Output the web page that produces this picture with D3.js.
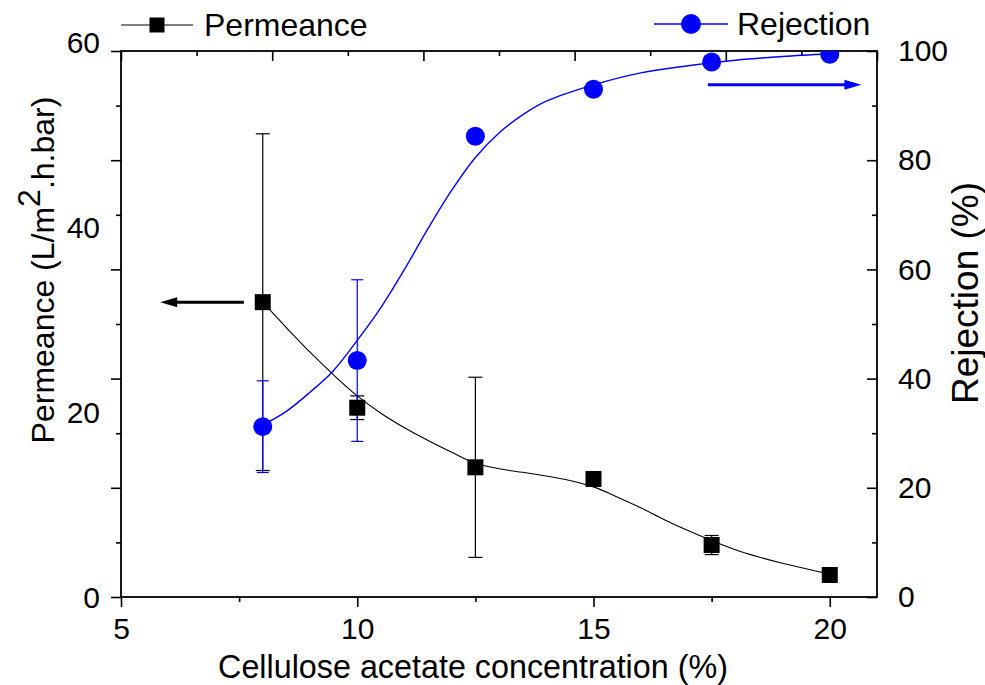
<!DOCTYPE html>
<html><head><meta charset="utf-8">
<script src="https://cdn.jsdelivr.net/npm/d3@7"></script>
<style>
html,body{margin:0;padding:0;background:#fff;}
svg{display:block;font-family:"Liberation Sans",Arial,Helvetica,sans-serif;}
</style></head><body>
<svg id="chart" width="985" height="685"></svg>
<script>
// Measured points: cellulose acetate concentration (%)
const concentration = [8, 10, 12.5, 15, 17.5, 20];
const permeance     = [32.4, 20.8, 14.25, 12.97, 5.71, 2.42];   // L/m2.h.bar
const permeanceErr  = [18.5, 1.3, 9.9, 0.4, 1.05, 0.3];
const rejection     = [31.2, 43.3, 84.4, 93.0, 98.0, 99.4];     // %
const rejectionErr  = [8.4, 14.8, 0, 0, 0, 0];

// Smoothed trend lines through each series
const permFitX = [8, 8.5, 9, 9.5, 10, 10.5, 11, 11.5, 12, 12.5, 13, 13.5, 14, 14.5, 15, 15.5, 16, 16.5, 17, 17.5, 18, 18.5, 19, 19.5, 20];
const permFitY = [32.4, 29.6, 26.9, 24.4, 22.1, 20.2, 18.6, 17.2, 15.9, 14.7, 14.1, 13.7, 13.3, 12.8, 12.1, 11.0, 9.8, 8.5, 7.3, 6.2, 5.2, 4.4, 3.7, 3.1, 2.5];
const rejFitX = [8, 8.5, 9, 9.5, 10, 10.5, 11, 11.5, 12, 12.5, 13, 13.5, 14, 15, 16, 17, 18, 19, 20];
const rejFitY = [31.5, 34, 37.5, 41.5, 47, 53, 60, 67.5, 74.5, 80.5, 85, 88.3, 90.8, 93.8, 96, 97.3, 98.3, 99, 99.5];

// Axis ticks
const xMajorTicks = [5, 10, 15, 20];
const xMinorTicks = [7.5, 12.5, 17.5];
const leftTickLabels = [0, 20, 40, 60];
const rightMajorTicks = [0, 20, 40, 60, 80, 100];
const rightMinorTicks = [10, 30, 50, 70, 90];
const topTicks = d3.range(0, 11);

const svg = d3.select("#chart");
const L = 121, R = 877, T = 51, B = 597;

const x = d3.scaleLinear().domain([5, 21]).range([L, R]);
const yL = d3.scaleLinear().domain([0, 60]).range([B, T]);
const yLabel = d3.scaleLinear().domain([0, 60]).range([598, 43]);
const yR = d3.scaleLinear().domain([0, 100]).range([B, T]);
const xTop = d3.scaleLinear().domain([0, 10]).range([L, R]);

const FS = 30;

svg.append("defs").append("clipPath").attr("id", "plotClip")
  .append("rect").attr("x", L).attr("y", T).attr("width", R - L).attr("height", B - T);

function styleAxis(g) {
  g.select(".domain").remove();
  g.selectAll(".tick line").attr("stroke", "#000").attr("stroke-width", 1.6);
  g.selectAll("text").attr("font-size", FS).attr("fill", "#000").attr("font-family", null);
}

// Bottom axis
svg.append("g").attr("transform", `translate(0,${B})`)
  .call(d3.axisBottom(x).tickValues(xMajorTicks).tickSize(10).tickPadding(11).tickFormat(d3.format("d")))
  .call(styleAxis);
svg.append("g").attr("transform", `translate(0,${B})`)
  .call(d3.axisBottom(x).tickValues(xMinorTicks).tickSize(5).tickFormat(""))
  .call(styleAxis);

// Top axis (inward ticks)
svg.append("g").attr("transform", `translate(0,${T})`)
  .call(d3.axisTop(xTop).tickValues(topTicks.filter(d => d % 2 === 0)).tickSize(-10).tickFormat(""))
  .call(styleAxis);
svg.append("g").attr("transform", `translate(0,${T})`)
  .call(d3.axisTop(xTop).tickValues(topTicks.filter(d => d % 2 === 1)).tickSize(-5).tickFormat(""))
  .call(styleAxis);

// Left axis: ticks and labels
svg.append("g").attr("transform", `translate(${L},0)`)
  .call(d3.axisLeft(yR).tickValues(rightMajorTicks).tickSize(10).tickFormat(""))
  .call(styleAxis);
svg.append("g").attr("transform", `translate(${L},0)`)
  .call(d3.axisLeft(yR).tickValues(rightMinorTicks).tickSize(5).tickFormat(""))
  .call(styleAxis);
svg.append("g").attr("transform", `translate(${L},0)`)
  .call(d3.axisLeft(yLabel).tickValues(leftTickLabels).tickSize(0).tickPadding(21).tickFormat(d3.format("d")))
  .call(styleAxis);

// Right axis (inward ticks)
svg.append("g").attr("transform", `translate(${R},0)`)
  .call(d3.axisRight(yR).tickValues(rightMajorTicks).tickSize(-10).tickPadding(21).tickFormat(d3.format("d")))
  .call(styleAxis);
svg.append("g").attr("transform", `translate(${R},0)`)
  .call(d3.axisRight(yR).tickValues(rightMinorTicks).tickSize(-5).tickFormat(""))
  .call(styleAxis);

// Frame
svg.append("rect").attr("x", L).attr("y", T).attr("width", R - L).attr("height", B - T)
  .attr("fill", "none").attr("stroke", "#000").attr("stroke-width", 1.8);

const plot = svg.append("g").attr("clip-path", "url(#plotClip)");
const BLUE = "#0000ff";

// Trend lines
plot.append("path")
  .datum(permFitX.map((d, i) => [d, permFitY[i]]))
  .attr("fill", "none").attr("stroke", "#000").attr("stroke-width", 1.1)
  .attr("d", d3.line().x(d => x(d[0])).y(d => yL(d[1])).curve(d3.curveCatmullRom));
plot.append("path")
  .datum(rejFitX.map((d, i) => [d, rejFitY[i]]))
  .attr("fill", "none").attr("stroke", BLUE).attr("stroke-width", 1.4)
  .attr("d", d3.line().x(d => x(d[0])).y(d => yR(d[1])).curve(d3.curveCatmullRom));

// Error bars
function errorBars(values, errs, y, color, cap) {
  const data = concentration.map((c, i) => ({ c, v: values[i], e: errs[i] })).filter(d => d.e > 0);
  const g = plot.append("g").attr("stroke", color).attr("stroke-width", 1.2);
  data.forEach(d => {
    const cx = x(d.c);
    g.append("line").attr("x1", cx).attr("x2", cx).attr("y1", y(d.v - d.e)).attr("y2", y(d.v + d.e));
    [d.v - d.e, d.v + d.e].forEach(v => {
      g.append("line").attr("x1", cx - cap).attr("x2", cx + cap).attr("y1", y(v)).attr("y2", y(v));
    });
  });
}
errorBars(permeance, permeanceErr, yL, "#000", 7);
errorBars(rejection, rejectionErr, yR, BLUE, 6);

// Markers
const SQ = 16;
plot.selectAll("rect.perm").data(concentration).enter().append("rect")
  .attr("class", "perm")
  .attr("x", (d) => x(d) - SQ / 2).attr("y", (d, i) => yL(permeance[i]) - SQ / 2)
  .attr("width", SQ).attr("height", SQ).attr("fill", "#000");
plot.selectAll("circle.rej").data(concentration).enter().append("circle")
  .attr("class", "rej")
  .attr("cx", d => x(d)).attr("cy", (d, i) => yR(rejection[i])).attr("r", 9.5)
  .attr("fill", BLUE);

// Direction arrows pointing to each series' axis
function arrow(x1, x2, y, color) {
  const dir = Math.sign(x2 - x1);
  svg.append("line").attr("x1", x1).attr("x2", x2 - dir * 12).attr("y1", y).attr("y2", y)
    .attr("stroke", color).attr("stroke-width", 3);
  svg.append("path")
    .attr("d", `M${x2},${y} L${x2 - dir * 17},${y - 5} L${x2 - dir * 17},${y + 5} Z`)
    .attr("fill", color);
}
arrow(x(7.6), x(5.83), yL(permeance[0]), "#000");
arrow(x(17.42), x(20.67), yR(93.8), BLUE);

// Legend
const lg1 = svg.append("g");
lg1.append("line").attr("x1", 121).attr("x2", 193).attr("y1", 25).attr("y2", 25).attr("stroke", "#000").attr("stroke-width", 1.1);
lg1.append("rect").attr("x", 157 - 7.5).attr("y", 25 - 7.5).attr("width", 15).attr("height", 15).attr("fill", "#000");
lg1.append("text").attr("x", 204).attr("y", 36).attr("font-size", 32).text("Permeance");

const lg2 = svg.append("g");
lg2.append("line").attr("x1", 654).attr("x2", 728).attr("y1", 24).attr("y2", 24).attr("stroke", BLUE).attr("stroke-width", 1.4);
lg2.append("circle").attr("cx", 691).attr("cy", 24).attr("r", 10).attr("fill", BLUE);
lg2.append("text").attr("x", 737).attr("y", 35).attr("font-size", 32).text("Rejection");

// Axis titles
svg.append("text").attr("x", 473).attr("y", 678).attr("text-anchor", "middle").attr("font-size", 32.3)
  .text("Cellulose acetate concentration (%)");

const yt = svg.append("text").attr("transform", "translate(54,270) rotate(-90)")
  .attr("text-anchor", "middle").attr("font-size", 32);
yt.append("tspan").text("Permeance (L/m");
yt.append("tspan").attr("dy", -14).attr("font-size", 32).text("2");
yt.append("tspan").attr("dy", 14).text(".h.bar)");

svg.append("text").attr("transform", "translate(978,293) rotate(-90)")
  .attr("text-anchor", "middle").attr("font-size", 37).text("Rejection (%)");
</script>
</body></html>
